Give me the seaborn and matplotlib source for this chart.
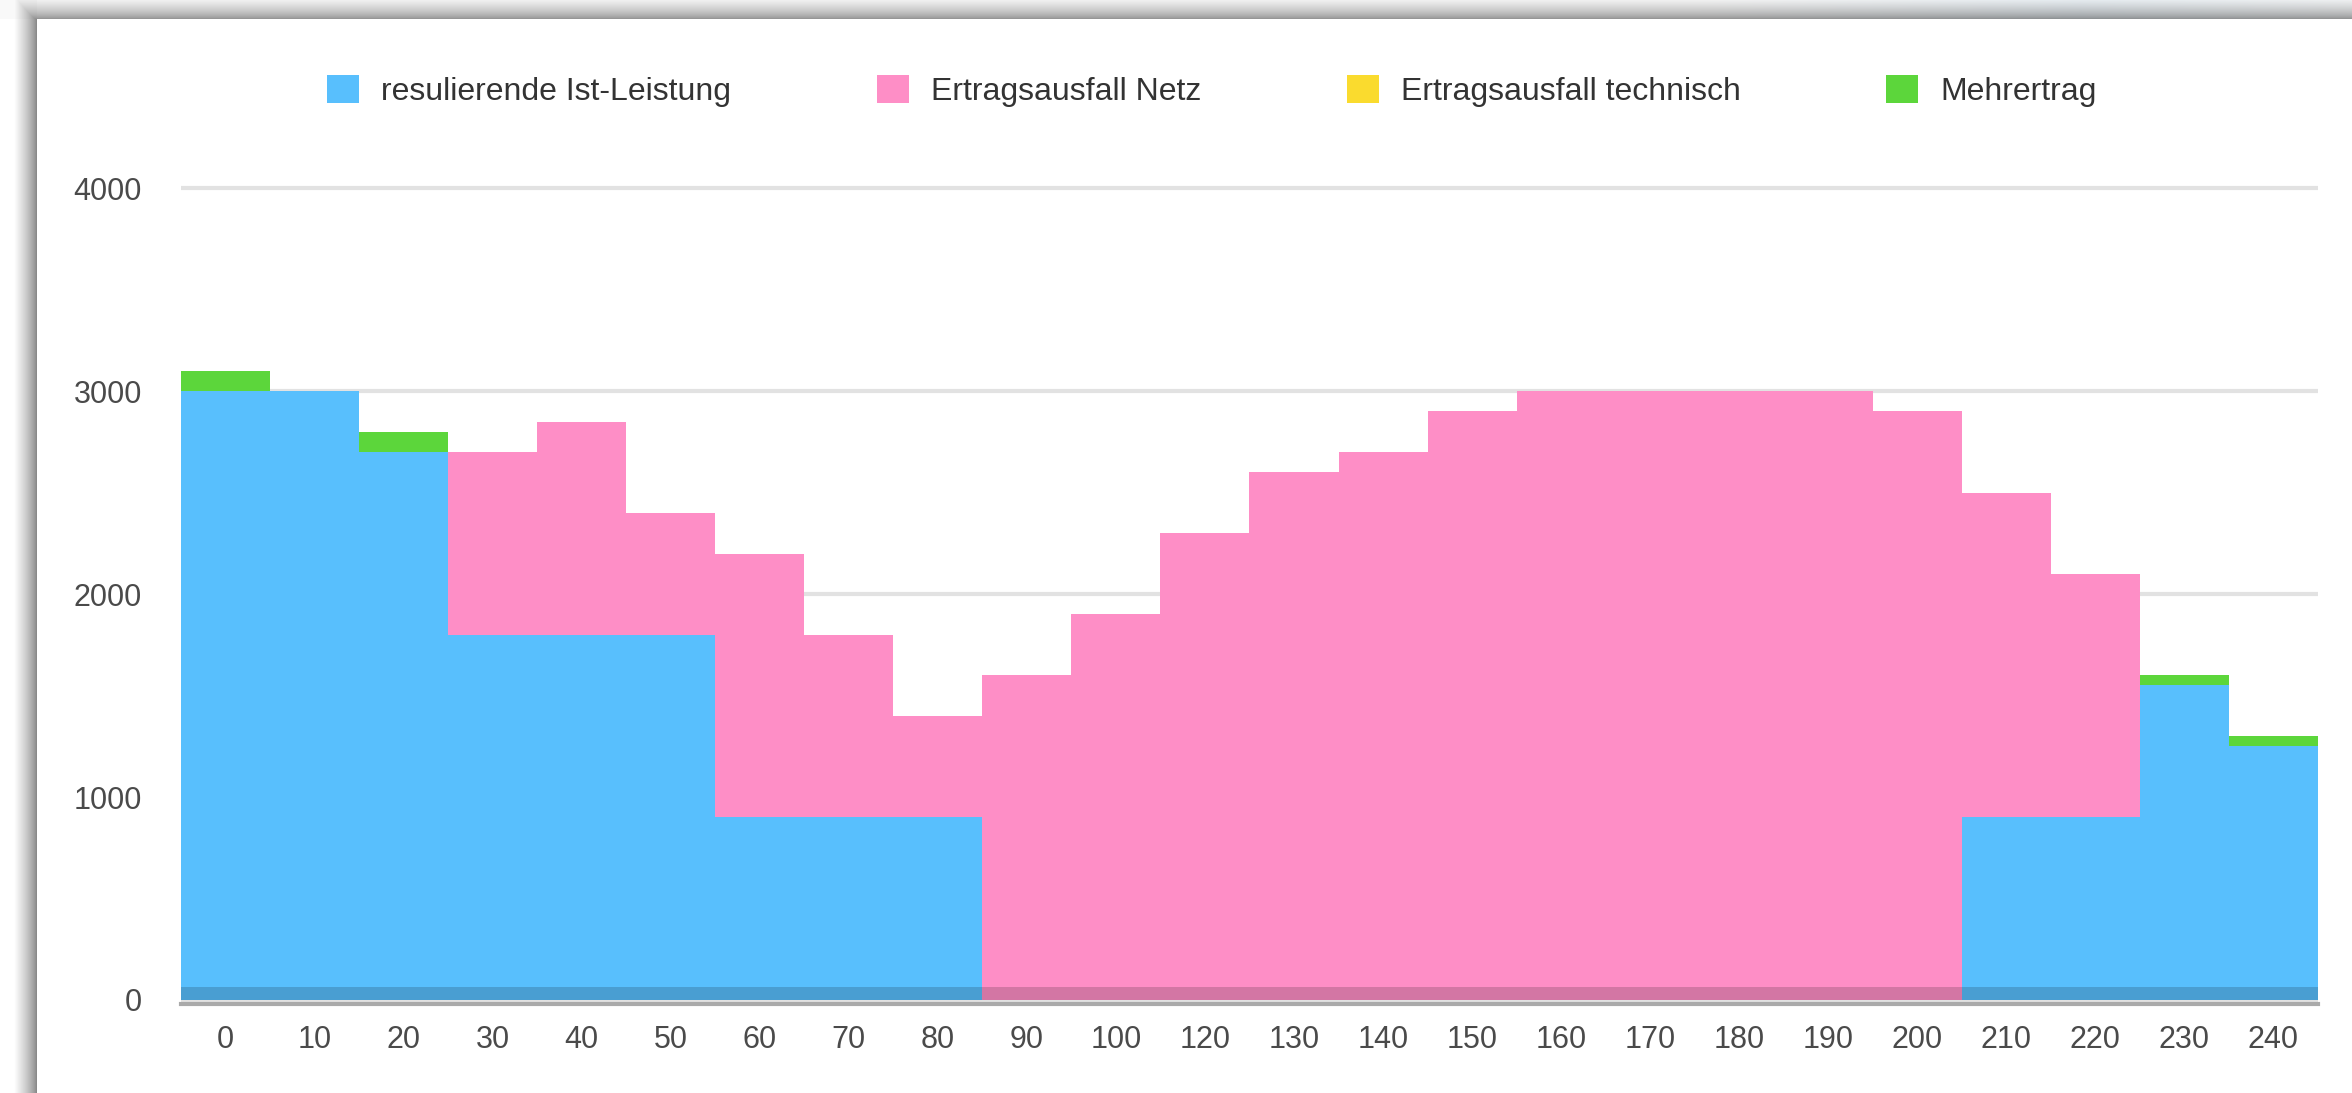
import numpy as np
import pandas as pd
import matplotlib
matplotlib.use("Agg")
import matplotlib.pyplot as plt
from matplotlib.patches import Patch
import seaborn as sns

# ---- data -------------------------------------------------------------
labels = ["0", "10", "20", "30", "40", "50", "60", "70", "80", "90", "100",
          "120", "130", "140", "150", "160", "170", "180", "190", "200",
          "210", "220", "230", "240"]
ist_leistung = [3000, 3000, 2700, 1800, 1800, 1800, 900, 900, 900, 0, 0,
                0, 0, 0, 0, 0, 0, 0, 0, 0, 900, 900, 1550, 1250]
ausfall_netz = [0, 0, 0, 900, 1050, 600, 1300, 900, 500, 1600, 1900,
                2300, 2600, 2700, 2900, 3000, 3000, 3000, 3000, 2900, 1600, 1200, 0, 0]
ausfall_technisch = [0, 0, 0, 0, 0, 0, 0, 0, 0, 0, 0,
                     0, 0, 0, 0, 0, 0, 0, 0, 0, 0, 0, 0, 0]
mehrertrag = [100, 0, 100, 0, 0, 0, 0, 0, 0, 0, 0,
              0, 0, 0, 0, 0, 0, 0, 0, 0, 0, 0, 50, 50]

series_names = ["resulierende Ist-Leistung", "Ertragsausfall Netz",
                "Ertragsausfall technisch", "Mehrertrag"]
series_colors = ["#58BFFD", "#FE8EC6", "#FADB2E", "#5CD63B"]

df = pd.DataFrame({
    "label": labels,
    series_names[0]: ist_leistung,
    series_names[1]: ausfall_netz,
    series_names[2]: ausfall_technisch,
    series_names[3]: mehrertrag,
})
# cumulative tops of the stacked segments
cum = df[series_names].cumsum(axis=1)

# ---- figure -----------------------------------------------------------
sns.set_theme(style="white")
plt.rcParams["font.family"] = ["Liberation Sans", "DejaVu Sans"]

W, H = 2352, 1093
PX, PY = 37, 19          # top-left corner of the white chart panel
fig = plt.figure(figsize=(W / 100, H / 100), dpi=100)
fig.patch.set_facecolor("white")

# window backdrop: drop shadow above and left of the panel
yy, xx = np.mgrid[0:H, 0:W].astype(float)
top_t = np.clip((PY - yy) / PY, 0, 1)
left_t = np.clip((PX - xx) / PX, 0, 1)
top_shade = np.where(yy < PY, 0.52 + 0.42 * top_t ** 0.6, 1.0)
left_shade = np.where(xx < PX, 0.48 + 0.52 * np.clip(left_t * 1.6, 0, 1) ** 0.7, 1.0)
shade = np.minimum(top_shade, left_shade)
shade = np.where((xx < PX) & (yy < PY), np.maximum(top_shade, left_shade) * 0.98, shade)
bg = np.dstack([shade, shade, shade])
# cool tint along the right part of the title strip
tint = np.clip(1 - np.abs(xx - 2080) / 380, 0, 1) * (yy < PY)
bg = bg * (1 - 0.25 * tint[..., None]) + 0.25 * tint[..., None] * np.dstack(
    [shade * 0.80, shade * 0.90, shade * 0.97])
bg_ax = fig.add_axes([0, 0, 1, 1], zorder=-10)
bg_ax.imshow(np.clip(bg, 0, 1), aspect="auto", interpolation="nearest")
bg_ax.axis("off")

ax = fig.add_axes([181 / W, 1 - 1004 / H, (2318 - 181) / W, (1004 - 168) / H])
ax.patch.set_alpha(0)

# layered bars: draw the tallest cumulative level first
for name, color in reversed(list(zip(series_names, series_colors))):
    sns.barplot(x=df["label"], y=cum[name], order=labels, color=color,
                saturation=1, width=1.0, linewidth=0, ax=ax, zorder=2)

# darker foot along the baseline
ax.axhspan(0, 62, color="black", alpha=0.17, lw=0, zorder=3)

ax.set_xlim(-0.5, len(labels) - 0.5)
ax.set_ylim(-20, 4100)
ax.set_yticks([0, 1000, 2000, 3000, 4000])
ax.set_xlabel("")
ax.set_ylabel("")
ax.yaxis.grid(True, color="#e2e2e2", linewidth=3)
ax.xaxis.grid(False)
ax.set_axisbelow(True)
for s in ["top", "right", "left"]:
    ax.spines[s].set_visible(False)
ax.spines["bottom"].set_color("#aaaaaa")
ax.spines["bottom"].set_linewidth(3)
ax.tick_params(axis="both", length=0, labelsize=22, colors="#4a4a4a")
ax.tick_params(axis="x", pad=15)
ax.tick_params(axis="y", pad=28)

handles = [Patch(facecolor=c, edgecolor="none", label=n)
           for n, c in zip(series_names, series_colors)]
fig.legend(handles=handles, loc="center", bbox_to_anchor=(1212 / W, 1 - 91 / H),
           ncol=4, frameon=False, fontsize=23, handlelength=1.0, handleheight=1.0,
           handletextpad=0.7, columnspacing=4.55, labelcolor="#333333")

fig.savefig("out.png", dpi=100, facecolor=fig.get_facecolor())
